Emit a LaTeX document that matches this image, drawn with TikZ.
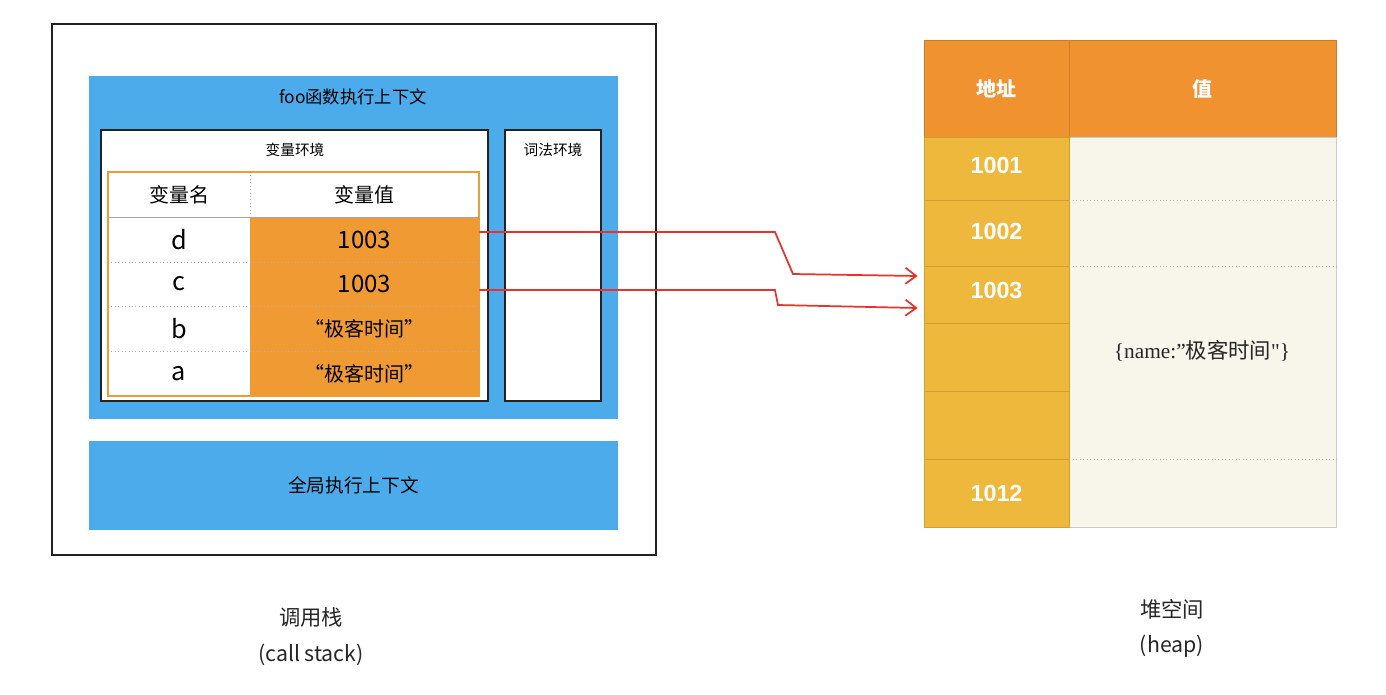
\documentclass[tikz,border=0pt]{standalone}
\usepackage{fontspec}
\setmainfont{Liberation Serif}
\newfontfamily\serifraw{Liberation Serif}[Ligatures=TeXOff]
\newfontfamily\cjk{Noto Sans CJK SC}
\newfontfamily\hsans{Liberation Sans}
\usetikzlibrary{fit,arrows.meta}
\definecolor{bluebg}{HTML}{4CABEB}
\definecolor{orangecell}{HTML}{F09A34}
\definecolor{orangehead}{HTML}{EF922F}
\definecolor{yellowaddr}{HTML}{EEB83D}
\definecolor{yellowline}{HTML}{D49E2C}
\definecolor{valbg}{HTML}{F8F6EB}
\definecolor{arrowred}{HTML}{E8322B}
\definecolor{darkline}{HTML}{222222}
\newcommand\R[7]{\node[fit={(#2,#3)(#4,#5)},inner sep=0pt,#6] (#1) {#7};}
\tikzset{
  handtxt/.style={font=\cjk, text=black},
  bluebox/.style={fill=bluebg, draw=none},
  whitebox/.style={fill=white, draw=darkline, line width=0.9pt},
  ocell/.style={fill=orangecell, draw=none},
  wcell/.style={fill=white, draw=none},
  sep/.style={draw=black!30, line width=0.6pt, dotted},
  addrcell/.style={fill=yellowaddr, draw=yellowline, line width=0.6pt},
  addrtxt/.style={font=\hsans\bfseries\fontsize{17.5}{20}\selectfont, text=white},
  ptr/.style={draw=arrowred, line width=1.3pt, -{Straight Barb[length=8pt,width=12pt,line width=1.3pt]}},
}
\begin{document}
\begin{tikzpicture}[x=0.75pt,y=-0.75pt]
\useasboundingbox (0,0) rectangle (1386,694);
\fill[white] (0,0) rectangle (1386,694);
% call stack frame
\R{stack}{52}{24}{656}{555}{draw=darkline, line width=1.6pt}{}
\R{foo}{89}{76}{618}{419}{bluebox}{}
\node[handtxt, font=\cjk\fontsize{13}{15}\selectfont] (footxt) at (353,97) {foo函数执行上下文};
\R{varenv}{101}{130}{488}{401}{whitebox}{}
\node[handtxt, font=\cjk\fontsize{11}{13}\selectfont] (varenvtxt) at (295,150) {变量环境};
\R{lexenv}{505}{130}{601}{401}{whitebox}{}
\node[handtxt, font=\cjk\fontsize{11}{13}\selectfont] (lexenvtxt) at (553,150) {词法环境};
% variable table
\R{vhn}{108}{172}{250}{217}{wcell}{}
\R{vhv}{250}{172}{479}{217}{wcell}{}
\node[handtxt, font=\cjk\fontsize{15}{17}\selectfont] at (vhn) {变量名};
\node[handtxt, font=\cjk\fontsize{15}{17}\selectfont] at (vhv) {变量值};
\R{nd}{108}{217}{250}{262}{wcell}{}
\R{nc}{108}{262}{250}{306}{wcell}{}
\R{nb}{108}{306}{250}{351}{wcell}{}
\R{na}{108}{351}{250}{396}{wcell}{}
\R{vd}{250}{217}{479}{262}{ocell}{}
\R{vc}{250}{262}{479}{306}{ocell}{}
\R{vb}{250}{306}{479}{351}{ocell}{}
\R{va}{250}{351}{479}{396}{ocell}{}
\draw[sep] (vhn.north east) -- (vhn.south east);
\draw[black!35, line width=0.8pt] (vhn.south west) -- (vhv.south east);
\draw[sep] (nd.south west) -- (vd.south east);
\draw[sep] (nc.south west) -- (vc.south east);
\draw[sep] (nb.south west) -- (vb.south east);
\node[handtxt, font=\cjk\fontsize{19}{21}\selectfont] at (nd) {d};
\node[handtxt, font=\cjk\fontsize{19}{21}\selectfont] at (nc) {c};
\node[handtxt, font=\cjk\fontsize{19}{21}\selectfont] at (nb) {b};
\node[handtxt, font=\cjk\fontsize{19}{21}\selectfont] at (na) {a};
\node[handtxt, font=\cjk\fontsize{18}{20}\selectfont] at (vd) {1003};
\node[handtxt, font=\cjk\fontsize{18}{20}\selectfont] at (vc) {1003};
\node[handtxt, font=\cjk\fontsize{15}{17}\selectfont] at (vb) {“极客时间”};
\node[handtxt, font=\cjk\fontsize{15}{17}\selectfont] at (va) {“极客时间”};
\R{vtable}{108}{172}{479}{396}{draw=orangecell, line width=2.2pt}{}
% global context
\R{global}{89}{441}{618}{530}{bluebox}{}
\node[handtxt, font=\cjk\fontsize{14}{16}\selectfont] at (global) {全局执行上下文};
% labels
\node[font=\cjk\fontsize{16}{18}\selectfont, text=black!85] (stacklbl) at (311,617) {调用栈};
\node[font=\cjk\fontsize{16}{18}\selectfont, text=black!85] (stacklbl2) at (311,655) {(call stack)};
\node[font=\cjk\fontsize{16}{18}\selectfont, text=black!85] (heaplbl) at (1172,609) {堆空间};
\node[font=\cjk\fontsize{16}{18}\selectfont, text=black!85] (heaplbl2) at (1172,646) {(heap)};
% heap table
\R{hha}{924}{40}{1069}{137}{fill=orangehead, draw=orangehead!85!black, line width=0.6pt}{}
\R{hhv}{1069}{40}{1336}{137}{fill=orangehead, draw=orangehead!85!black, line width=0.6pt}{}
\node[font=\cjk\bfseries\fontsize{15}{17}\selectfont, text=white] at (hha) {地址};
\node[font=\cjk\bfseries\fontsize{15}{17}\selectfont, text=white] at (hhv) {值};
\R{hvals}{1069}{137}{1336}{527}{fill=valbg, draw=black!20, line width=0.6pt}{}
\R{h1001}{924}{137}{1069}{200}{addrcell}{}
\R{h1002}{924}{200}{1069}{266}{addrcell}{}
\R{h1003}{924}{266}{1069}{323}{addrcell}{}
\R{h1004}{924}{323}{1069}{391}{addrcell}{}
\R{h1005}{924}{391}{1069}{459}{addrcell}{}
\R{h1012}{924}{459}{1069}{527}{addrcell}{}
\node[addrtxt] at ([yshift=2pt]h1001.center) {1001};
\node[addrtxt] at ([yshift=1pt]h1002.center) {1002};
\node[addrtxt] at ([yshift=3pt]h1003.center) {1003};
\node[addrtxt] at (h1012) {1012};
\draw[sep] (h1001.south east) -- (hvals.east |- h1001.south);
\draw[sep] (h1002.south east) -- (hvals.east |- h1002.south);
\draw[sep] (h1005.south east) -- (hvals.east |- h1005.south);
\node[font=\serifraw\fontsize{16}{18}\selectfont, text=black!85] (objtxt) at (1202,351) {\{name:”{\cjk 极客时间}"\}};
% pointers
\coordinate (d1) at (775,232);
\coordinate (d2) at (793,274);
\coordinate (c1) at (775,290);
\coordinate (c2) at (778,305);
\draw[ptr] (vd.east |- d1) -- (d1) -- (d2) -- ([xshift=-4.5pt]h1003.west |- 0,276);
\draw[ptr] (vc.east |- c1) -- (c1) -- (c2) -- ([xshift=-4.5pt]h1003.west |- 0,308);
\end{tikzpicture}
\end{document}
